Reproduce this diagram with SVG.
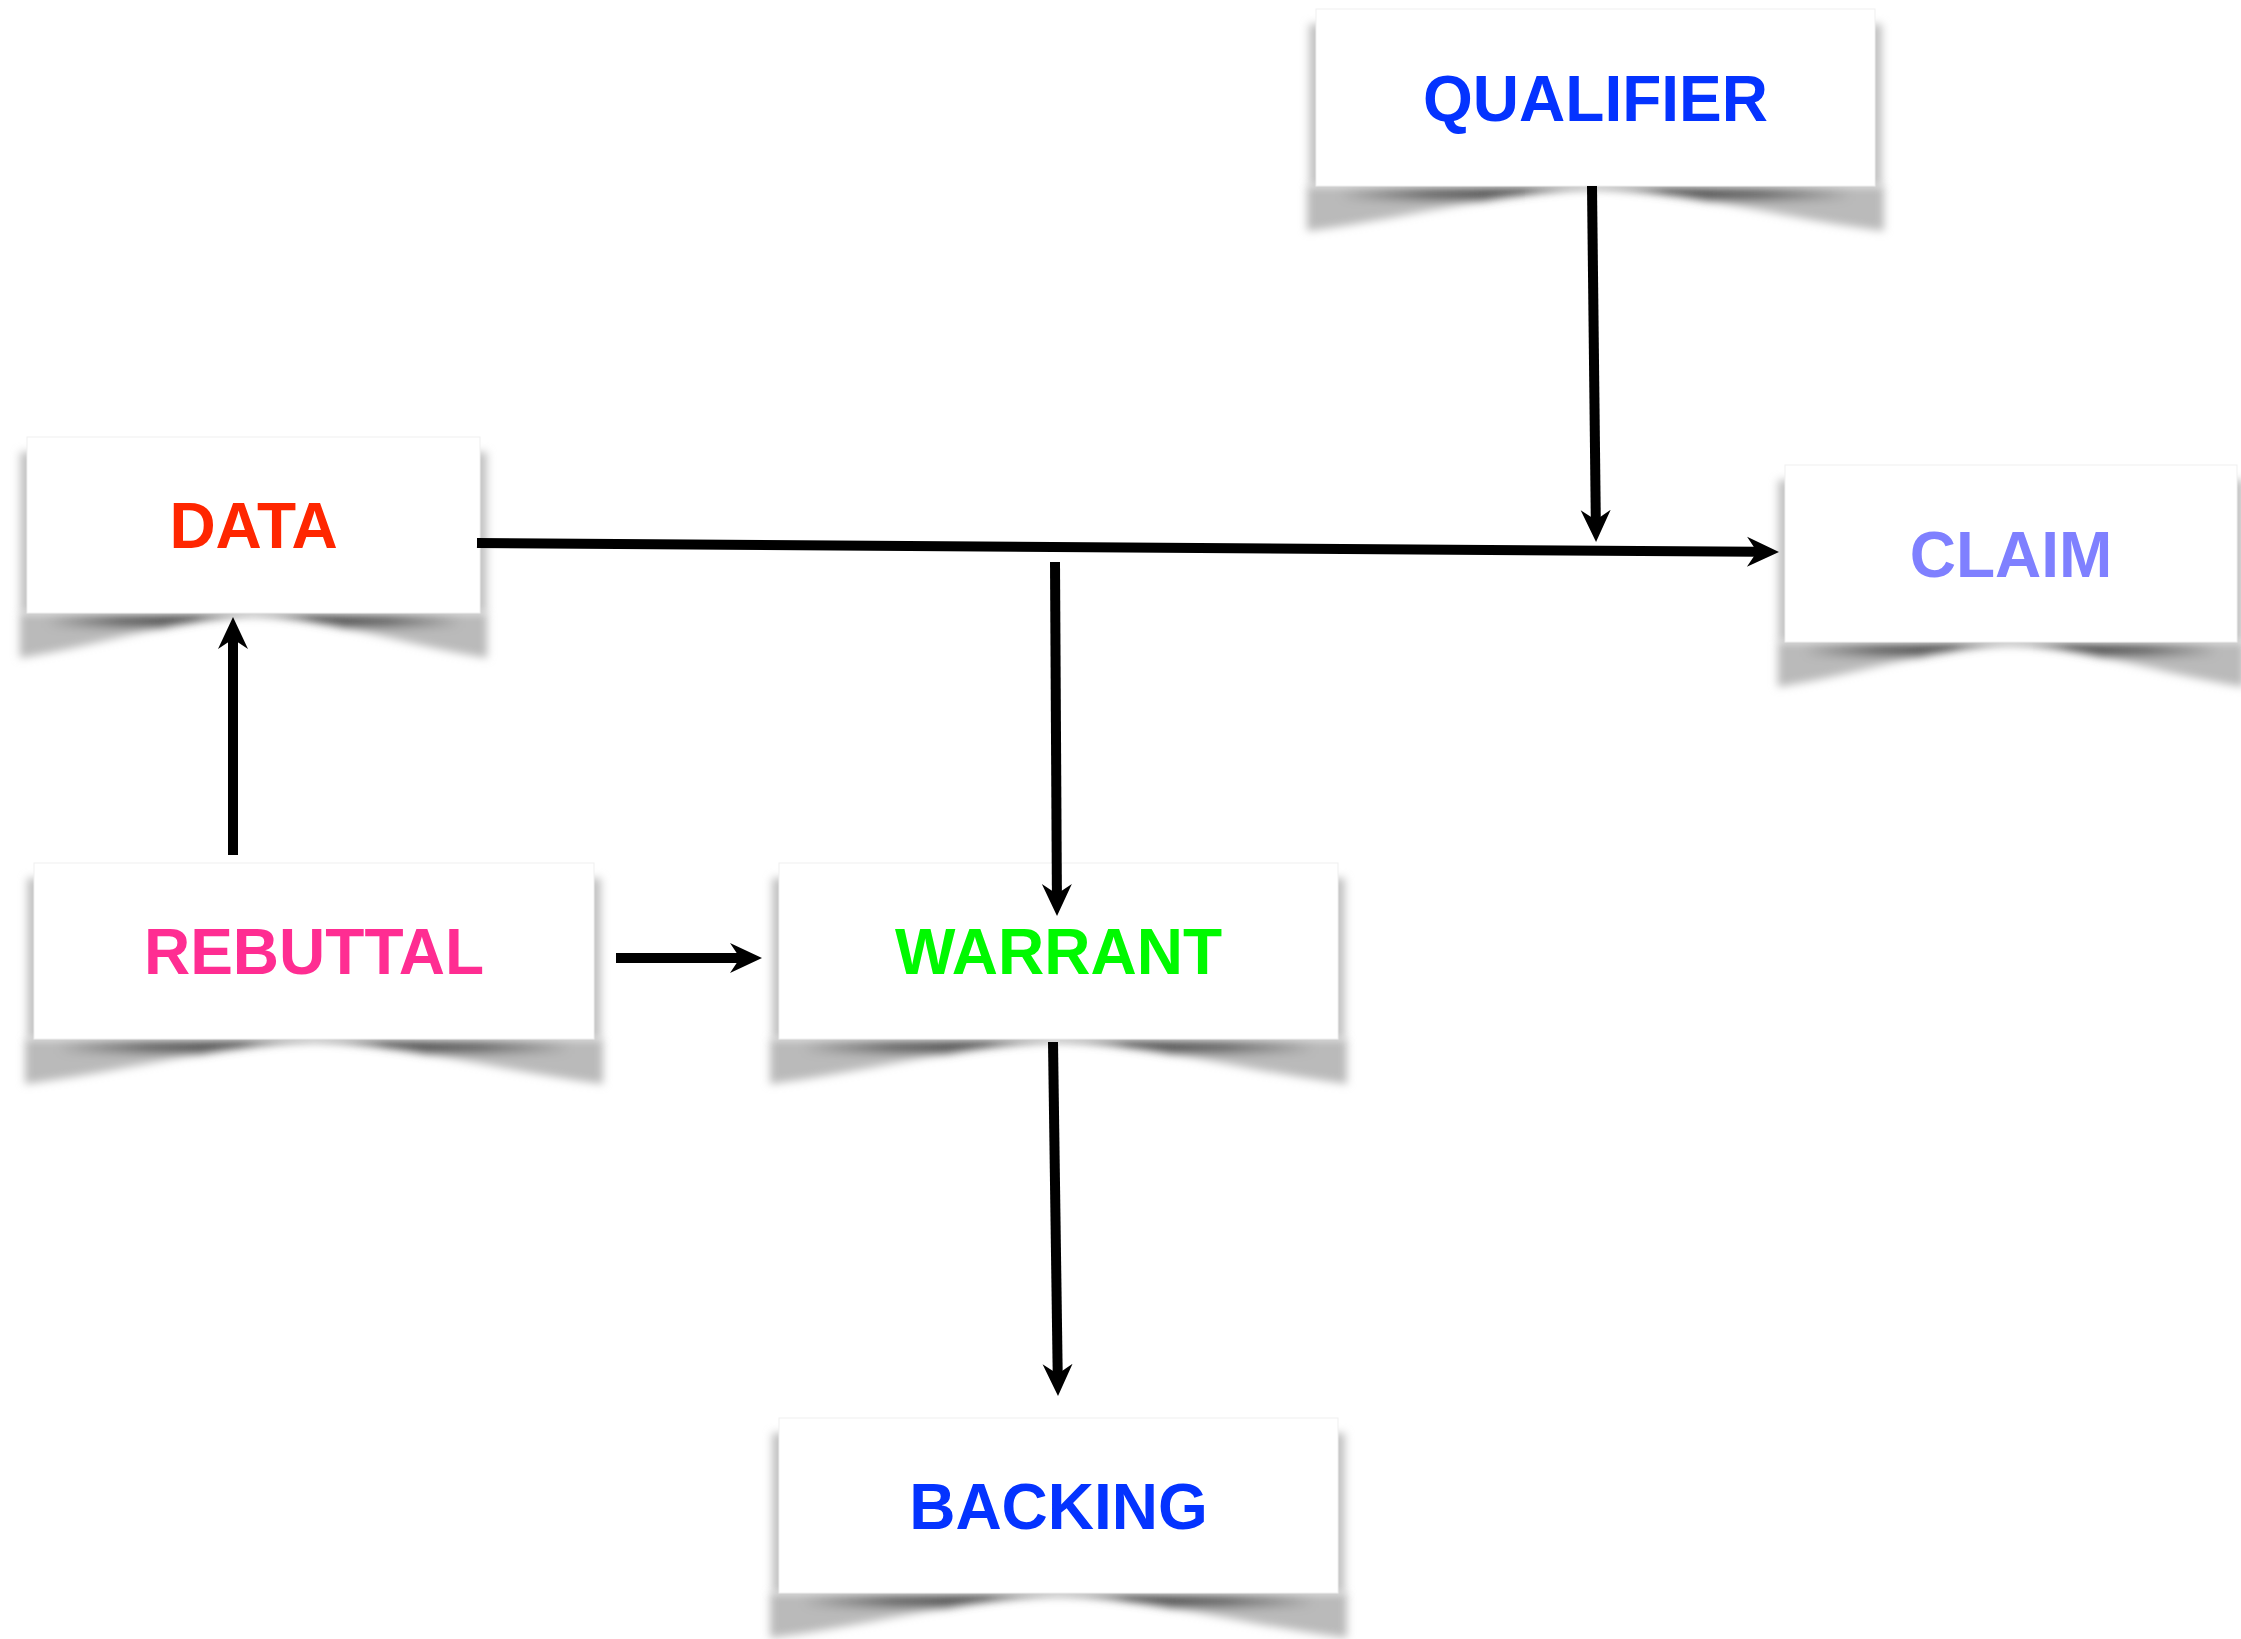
<svg xmlns="http://www.w3.org/2000/svg" xmlns:xlink="http://www.w3.org/1999/xlink" width="2241" height="1639" viewBox="0 0 2241 1639">
  <style>
    .card { fill: #ffffff; stroke: #efefef; stroke-width: 1; }
    .edge { fill: #c2c2c2; filter: url(#soft); }
    .curl { fill: #bababa; }
    .label { font-family: "Liberation Sans", Arial, Helvetica, sans-serif; font-weight: bold; font-size: 64px; text-anchor: middle; }
    .link { fill: none; stroke: #000000; stroke-width: 10; stroke-linecap: butt; marker-end: url(#head); }
  </style>
  <defs>
    <filter id="soft" x="-10%" y="-60%" width="120%" height="220%">
      <feGaussianBlur stdDeviation="4"/>
    </filter>
    <!-- curled-page shadow in unit width (x 0..1 spans the card), y in px below the card -->
    <path id="curlShape" d="M-0.016,0 L1.016,0 L1.016,45 C0.82,31 0.65,3 0.5,3 C0.35,3 0.18,31 -0.016,45 Z"/>
    <clipPath id="curlClip">
      <use xlink:href="#curlShape"/>
    </clipPath>
    <linearGradient id="creaseShade" x1="0" y1="0" x2="1" y2="0">
      <stop offset="0" stop-color="#505050" stop-opacity="0"/>
      <stop offset="0.18" stop-color="#505050" stop-opacity="0.7"/>
      <stop offset="0.36" stop-color="#4c4c4c" stop-opacity="1"/>
      <stop offset="0.5" stop-color="#7a7a7a" stop-opacity="0.7"/>
      <stop offset="0.64" stop-color="#4c4c4c" stop-opacity="1"/>
      <stop offset="0.82" stop-color="#505050" stop-opacity="0.7"/>
      <stop offset="1" stop-color="#505050" stop-opacity="0"/>
    </linearGradient>
    <g id="curl">
      <use xlink:href="#curlShape" class="curl"/>
      <rect x="0.04" y="0" width="0.92" height="15" fill="url(#creaseShade)" clip-path="url(#curlClip)"/>
    </g>
    <!-- barbed arrowhead; origin sits at the notch so the shaft tucks under it -->
    <marker id="head" markerUnits="userSpaceOnUse" viewBox="-12 -17 36 34" refX="0" refY="0" markerWidth="36" markerHeight="34" orient="auto" overflow="visible">
      <path d="M22,0 L-10,-15 L0,0 L-10,15 Z" fill="#000000"/>
    </marker>
  </defs>

  <rect width="2241" height="1639" fill="#ffffff"/>

  <!-- QUALIFIER: card x1316 y9 w559 h177 -->
  <g id="node-qualifier">
    <g filter="url(#soft)"><use xlink:href="#curl" transform="translate(1316,186) scale(559,1)"/></g>
    <rect class="edge" x="1309" y="24" width="573" height="162"/>
    <rect class="card" x="1316" y="9" width="559" height="177"/>
    <text class="label" x="1595.5" y="120.5" fill="#0433ff">QUALIFIER</text>
  </g>

  <!-- DATA: card x27 y437 w453 h176 -->
  <g id="node-data">
    <g filter="url(#soft)"><use xlink:href="#curl" transform="translate(27,613) scale(453,1)"/></g>
    <rect class="edge" x="20" y="452" width="467" height="161"/>
    <rect class="card" x="27" y="437" width="453" height="176"/>
    <text class="label" x="253.5" y="548" fill="#ff2600">DATA</text>
  </g>

  <!-- CLAIM: card x1785 y465 w452 h177 -->
  <g id="node-claim">
    <g filter="url(#soft)"><use xlink:href="#curl" transform="translate(1785,642) scale(452,1)"/></g>
    <rect class="edge" x="1778" y="480" width="466" height="162"/>
    <rect class="card" x="1785" y="465" width="452" height="177"/>
    <text class="label" x="2011" y="576.5" fill="#7f80ff">CLAIM</text>
  </g>

  <!-- REBUTTAL: card x34 y863 w560 h176 -->
  <g id="node-rebuttal">
    <g filter="url(#soft)"><use xlink:href="#curl" transform="translate(34,1039) scale(560,1)"/></g>
    <rect class="edge" x="27" y="878" width="574" height="161"/>
    <rect class="card" x="34" y="863" width="560" height="176"/>
    <text class="label" x="314" y="974" fill="#ff2d92">REBUTTAL</text>
  </g>

  <!-- WARRANT: card x779 y863 w559 h176 -->
  <g id="node-warrant">
    <g filter="url(#soft)"><use xlink:href="#curl" transform="translate(779,1039) scale(559,1)"/></g>
    <rect class="edge" x="772" y="878" width="573" height="161"/>
    <rect class="card" x="779" y="863" width="559" height="176"/>
    <text class="label" x="1058.5" y="974" fill="#00f900">WARRANT</text>
  </g>

  <!-- BACKING: card x779 y1418 w559 h175 -->
  <g id="node-backing">
    <g filter="url(#soft)"><use xlink:href="#curl" transform="translate(779,1593) scale(559,1)"/></g>
    <rect class="edge" x="772" y="1433" width="573" height="160"/>
    <rect class="card" x="779" y="1418" width="559" height="175"/>
    <text class="label" x="1058.5" y="1528.5" fill="#0433ff">BACKING</text>
  </g>

  <!-- connectors: each line stops at the arrowhead notch, 22px short of the tip -->
  <g id="connectors">
    <line class="link" x1="477" y1="543" x2="1757" y2="551.8"/>
    <line class="link" x1="1592" y1="186" x2="1595.8" y2="520"/>
    <line class="link" x1="1055" y1="562" x2="1056.9" y2="894"/>
    <line class="link" x1="616" y1="958" x2="740" y2="958"/>
    <line class="link" x1="1053" y1="1042" x2="1057.7" y2="1374"/>
    <line class="link" x1="233" y1="855" x2="233" y2="639"/>
  </g>
</svg>
